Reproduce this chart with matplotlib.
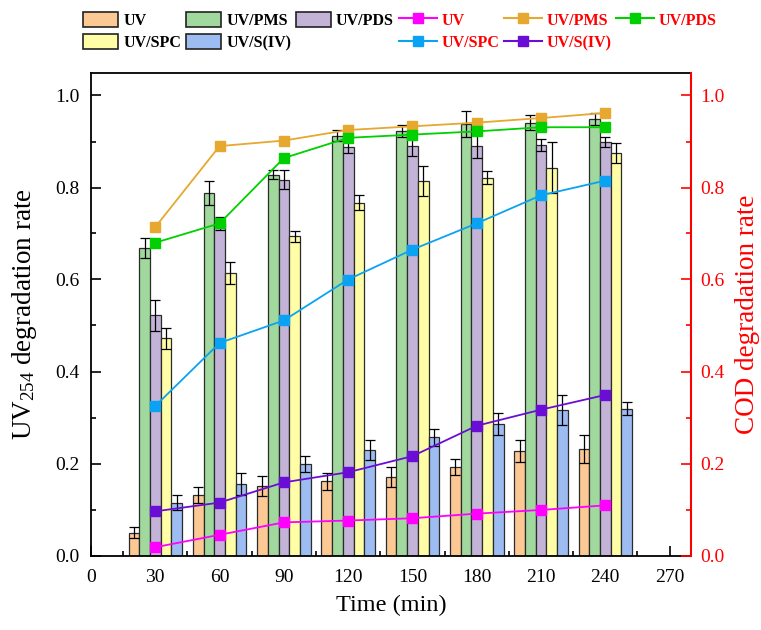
import matplotlib
matplotlib.use("Agg")
import matplotlib.pyplot as plt
from matplotlib.ticker import MultipleLocator
from matplotlib.patches import Patch
from matplotlib.lines import Line2D
import numpy as np

plt.rcParams['font.family'] = ['Liberation Serif', 'DejaVu Serif']
plt.rcParams['mathtext.fontset'] = 'custom'
plt.rcParams['mathtext.rm'] = 'Liberation Serif'
plt.rcParams['mathtext.it'] = 'Liberation Serif:italic'

# ---- data ----
times = [30, 60, 90, 120, 150, 180, 210, 240]
bar_names = ["UV", "UV/PMS", "UV/PDS", "UV/SPC", "UV/S(IV)"]

uv254_uv = [0.049, 0.132, 0.151, 0.161, 0.170, 0.192, 0.228, 0.232]
uv254_pms = [0.669, 0.788, 0.828, 0.913, 0.922, 0.938, 0.941, 0.949]
uv254_pds = [0.522, 0.722, 0.817, 0.888, 0.890, 0.890, 0.893, 0.899]
uv254_spc = [0.472, 0.614, 0.694, 0.767, 0.814, 0.821, 0.843, 0.875]
uv254_s4 = [0.115, 0.156, 0.199, 0.230, 0.257, 0.286, 0.317, 0.319]

err_uv = [0.012, 0.017, 0.022, 0.019, 0.022, 0.018, 0.024, 0.030]
err_pms = [0.022, 0.027, 0.010, 0.012, 0.013, 0.029, 0.016, 0.013]
err_pds = [0.034, 0.014, 0.020, 0.014, 0.022, 0.025, 0.013, 0.011]
err_spc = [0.022, 0.024, 0.012, 0.016, 0.032, 0.014, 0.055, 0.021]
err_s4 = [0.016, 0.024, 0.018, 0.022, 0.018, 0.023, 0.033, 0.014]

cod_uv = [0.018, 0.045, 0.072, 0.076, 0.081, 0.091, 0.099, 0.109]
cod_pms = [0.714, 0.890, 0.902, 0.925, 0.933, 0.941, 0.951, 0.962]
cod_pds = [0.680, 0.722, 0.864, 0.908, 0.915, 0.922, 0.931, 0.931]
cod_spc = [0.325, 0.462, 0.511, 0.600, 0.665, 0.722, 0.783, 0.815]
cod_s4 = [0.096, 0.115, 0.159, 0.181, 0.216, 0.282, 0.317, 0.349]

bar_vals = [uv254_uv, uv254_pms, uv254_pds, uv254_spc, uv254_s4]
bar_errs = [err_uv, err_pms, err_pds, err_spc, err_s4]
bar_colors = ["#FCC894", "#A0D89E", "#C3B3D7", "#FFFEA6", "#9DBCF1"]

line_vals = [cod_uv, cod_pms, cod_pds, cod_spc, cod_s4]
line_colors = ["#FF00FF", "#E6A82E", "#00D000", "#0AA2F2", "#6A0ED6"]

# ---- figure ----
fig = plt.figure(figsize=(7.61, 6.30), dpi=100)
ax1 = fig.add_axes([91/761, 1-555.5/630, 600/761, (555.5-72.5)/630])
ax2 = ax1.twinx()

bw = 5.0
offsets = [-10, -5, 0, 5, 10]
t = np.array(times, dtype=float)
for vals, errs, col, off in zip(bar_vals, bar_errs, bar_colors, offsets):
    ax1.bar(t + off, vals, width=bw, color=col, edgecolor="#2b2b2b", linewidth=0.9, zorder=2)
    ax1.errorbar(t + off, vals, yerr=errs, fmt='none', ecolor='black', elinewidth=0.9,
                 capsize=3.6, capthick=0.9, zorder=3)

for vals, col in zip(line_vals, line_colors):
    ax2.plot(times, vals, color=col, lw=1.3, marker='s', markersize=6.5,
             markerfacecolor=col, markeredgecolor=col)

ax1.set_xlim(0, 280)
ax1.set_ylim(0, 1.05)
ax2.set_ylim(0, 1.05)

ax1.xaxis.set_major_locator(MultipleLocator(30))
ax1.xaxis.set_minor_locator(MultipleLocator(15))
ax1.yaxis.set_major_locator(MultipleLocator(0.2))
ax1.yaxis.set_minor_locator(MultipleLocator(0.1))
ax2.yaxis.set_major_locator(MultipleLocator(0.2))
ax2.yaxis.set_minor_locator(MultipleLocator(0.1))
ax1.yaxis.set_major_formatter(matplotlib.ticker.FormatStrFormatter('%.1f'))
ax2.yaxis.set_major_formatter(matplotlib.ticker.FormatStrFormatter('%.1f'))

ax1.tick_params(axis='both', which='both', direction='in', top=False, right=False)
ax1.tick_params(axis='both', which='major', length=7, width=1.2, labelsize=14)
ax1.tick_params(axis='both', which='minor', length=3.5, width=1.2)
ax1.tick_params(axis='x', which='major', pad=10)
ax1.tick_params(axis='y', which='major', pad=8)
ax2.tick_params(axis='y', which='both', direction='in', colors='red', width=1.2)
ax2.tick_params(axis='y', which='major', length=7, labelsize=14, pad=6.5)
ax2.tick_params(axis='y', which='minor', length=3.5)

for s in ['left', 'bottom', 'top']:
    ax1.spines[s].set_linewidth(1.3)
    ax1.spines[s].set_color('black')
ax1.spines['right'].set_visible(False)
for s in ['left', 'bottom', 'top']:
    ax2.spines[s].set_visible(False)
ax2.spines['right'].set_color('red')
ax2.spines['right'].set_linewidth(1.5)

ax1.set_xlabel("Time (min)", fontsize=17.5, labelpad=6)
ax1.set_ylabel("UV$_{254}$ degradation rate", fontsize=19.5)
ax1.yaxis.set_label_coords(-0.086, 0.5)
ax2.set_ylabel("COD degradation rate", fontsize=19.5, color='red')
ax2.yaxis.set_label_coords(1.074, 0.5)

# ---- legends ----
bar_handles = [Patch(facecolor=c, edgecolor='#222222', linewidth=1.2) for c in bar_colors]
order = [0, 3, 1, 4, 2]
leg1 = fig.legend([bar_handles[i] for i in order], [bar_names[i] for i in order],
                  ncol=3, loc='upper left', bbox_to_anchor=(83/761, 1-12/630),
                  frameon=False, prop={'weight': 'bold', 'size': 11.5},
                  handlelength=2.2, handleheight=1.05, handletextpad=0.33,
                  columnspacing=0.28, labelspacing=0.33, borderpad=0, borderaxespad=0)

line_handles = [Line2D([], [], color=c, lw=1.5, marker='s', markersize=7,
                       markerfacecolor=c, markeredgecolor=c) for c in line_colors]
leg2 = fig.legend([line_handles[i] for i in order], [bar_names[i] for i in order],
                  ncol=3, loc='upper left', bbox_to_anchor=(399/761, 1-12/630),
                  frameon=False, prop={'weight': 'bold', 'size': 11.5},
                  handlelength=2.4, handleheight=1.05, handletextpad=0.25,
                  columnspacing=0.3, labelspacing=0.33, borderpad=0, borderaxespad=0)
for txt in leg2.get_texts():
    txt.set_color('red')

fig.savefig("out.png", dpi=100)
